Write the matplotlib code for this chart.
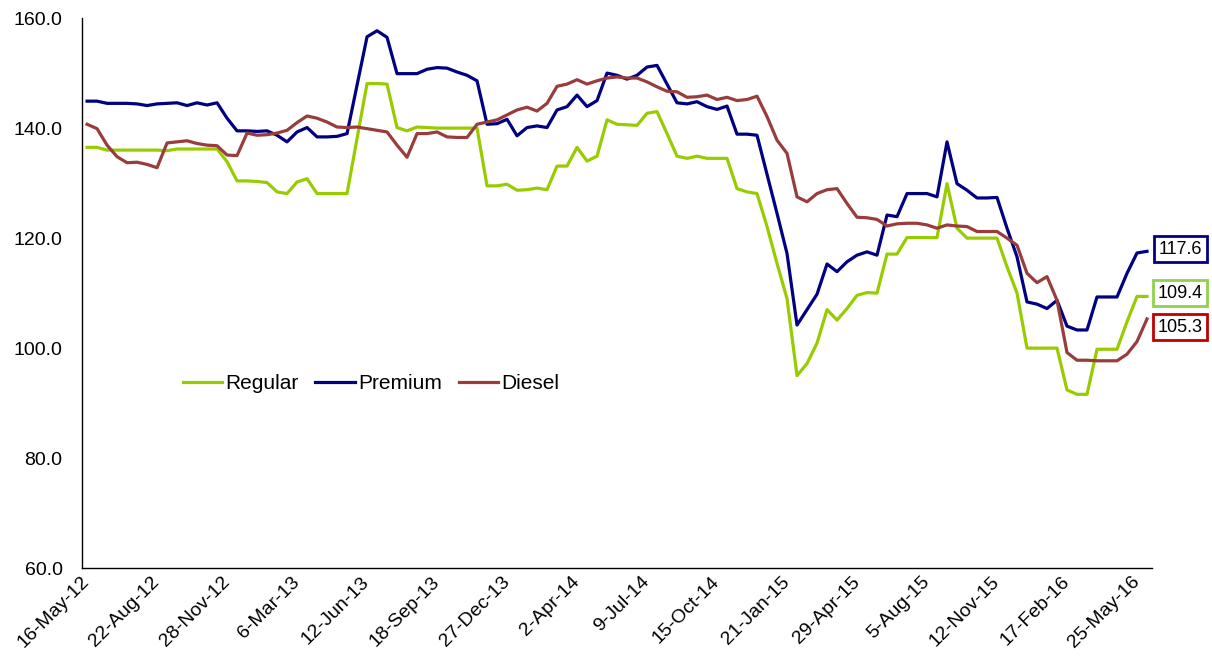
import numpy as np
import matplotlib
matplotlib.use("Agg")
import matplotlib.pyplot as plt
from matplotlib.ticker import FormatStrFormatter

plt.rcParams['font.family'] = ['Liberation Sans', 'DejaVu Sans']

# --- data (biweekly price index) ---
tick_labels = ['16-May-12', '22-Aug-12', '28-Nov-12', '6-Mar-13', '12-Jun-13', '18-Sep-13',
               '27-Dec-13', '2-Apr-14', '9-Jul-14', '15-Oct-14', '21-Jan-15', '29-Apr-15',
               '5-Aug-15', '12-Nov-15', '17-Feb-16', '25-May-16']

regular = [136.5, 136.5, 136.0, 136.0, 136.0, 136.0, 136.0, 136.0, 135.9, 136.2,
           136.2, 136.2, 136.2, 136.2, 133.9, 130.4, 130.4, 130.3, 130.1, 128.4,
           128.1, 130.2, 130.8, 128.1, 128.1, 128.1, 128.1, 138.1, 148.1, 148.1,
           148.0, 140.1, 139.5, 140.2, 140.1, 140.0, 140.0, 140.0, 140.0, 140.0,
           129.5, 129.5, 129.8, 128.7, 128.8, 129.1, 128.8, 133.1, 133.1, 136.5,
           134.0, 134.9, 141.5, 140.7, 140.6, 140.5, 142.7, 143.0, 139.0, 134.9,
           134.5, 134.9, 134.5, 134.5, 134.5, 129.0, 128.4, 128.1, 122.1, 115.4,
           109.0, 95.0, 97.2, 100.9, 107.0, 105.1, 107.2, 109.6, 110.1, 110.0,
           117.1, 117.1, 120.1, 120.1, 120.1, 120.1, 129.9, 121.8, 120.0, 120.0,
           120.0, 120.0, 114.8, 110.0, 100.0, 100.0, 100.0, 100.0, 92.4, 91.6,
           91.6, 99.8, 99.8, 99.8, 104.8, 109.4, 109.4]

premium = [144.9, 144.9, 144.5, 144.5, 144.5, 144.4, 144.1, 144.4, 144.5, 144.6,
           144.1, 144.6, 144.2, 144.6, 141.8, 139.5, 139.5, 139.4, 139.5, 138.7,
           137.5, 139.3, 140.1, 138.4, 138.4, 138.5, 139.0, 147.8, 156.6, 157.7,
           156.5, 149.9, 149.9, 149.9, 150.7, 151.0, 150.9, 150.2, 149.6, 148.6,
           140.7, 140.8, 141.6, 138.6, 140.1, 140.4, 140.1, 143.3, 143.9, 146.0,
           143.9, 145.0, 150.0, 149.6, 148.9, 149.6, 151.1, 151.4, 148.0, 144.6,
           144.4, 144.8, 143.9, 143.4, 144.0, 138.9, 138.9, 138.7, 131.6, 124.5,
           117.2, 104.2, 107.0, 109.8, 115.3, 113.9, 115.7, 116.9, 117.5, 116.9,
           124.2, 123.9, 128.1, 128.1, 128.1, 127.5, 137.5, 129.9, 128.7, 127.3,
           127.3, 127.4, 121.8, 116.6, 108.4, 108.0, 107.2, 108.7, 104.0, 103.3,
           103.3, 109.3, 109.3, 109.3, 113.6, 117.3, 117.6]

diesel = [140.7, 139.9, 136.9, 134.8, 133.7, 133.8, 133.4, 132.8, 137.3, 137.5,
          137.7, 137.2, 136.9, 136.8, 135.1, 135.0, 139.1, 138.7, 138.8, 139.1,
          139.6, 141.0, 142.2, 141.8, 141.1, 140.2, 140.1, 140.2, 139.9, 139.6,
          139.3, 136.9, 134.7, 139.0, 139.0, 139.3, 138.4, 138.3, 138.3, 140.7,
          141.1, 141.5, 142.4, 143.3, 143.8, 143.1, 144.5, 147.6, 148.0, 148.8,
          148.0, 148.6, 149.1, 149.3, 149.1, 149.1, 148.4, 147.5, 146.7, 146.6,
          145.6, 145.7, 146.0, 145.2, 145.6, 145.0, 145.2, 145.8, 142.1, 137.8,
          135.4, 127.5, 126.6, 128.1, 128.8, 129.0, 126.3, 123.8, 123.7, 123.4,
          122.2, 122.6, 122.7, 122.7, 122.4, 121.8, 122.4, 122.2, 122.1, 121.2,
          121.2, 121.2, 120.0, 118.7, 113.6, 111.9, 113.0, 108.7, 99.2, 97.8,
          97.8, 97.7, 97.7, 97.7, 98.9, 101.2, 105.3]

x = np.arange(len(regular))
tick_step = 7

fig = plt.figure(figsize=(12.12, 6.70), dpi=100)
ax = fig.add_axes([0.0677, 0.152, 0.8828, 0.821])

ax.plot(x, regular, color='#99CC00', lw=2.3, label='Regular')
ax.plot(x, premium, color='#000080', lw=2.3, label='Premium')
ax.plot(x, diesel, color='#993C3C', lw=2.3, label='Diesel')

ax.set_xlim(-0.5, len(x) - 0.5)
ax.set_ylim(60, 160)
ax.set_yticks(np.arange(60, 161, 20))
ax.yaxis.set_major_formatter(FormatStrFormatter('%.1f'))
ax.set_xticks(x[::tick_step][:len(tick_labels)])
ax.set_xticklabels(tick_labels, rotation=45, ha='right', va='center',
                   rotation_mode='anchor')
ax.tick_params(axis='both', length=0, labelsize=14)
ax.tick_params(axis='y', pad=14)
ax.tick_params(axis='x', pad=8)

for s in ['top', 'right']:
    ax.spines[s].set_visible(False)
for s in ['left', 'bottom']:
    ax.spines[s].set_color('black')
    ax.spines[s].set_linewidth(1.0)

ax.legend(loc='center', bbox_to_anchor=(0.27, 0.336), ncol=3, frameon=False,
          fontsize=15, handlelength=1.9, handletextpad=0.15, columnspacing=0.8)

# end-value boxes
boxes = [(premium[-1], '#000080', 1.6), (regular[-1], '#92D050', 2.4), (diesel[-1], '#C00000', -5.8)]
for val, col, dy in boxes:
    ax.annotate(f'{val:.1f}', xy=(x[-1], val), xytext=(24, dy), textcoords='offset points',
                ha='center', va='center', fontsize=13, annotation_clip=False,
                bbox=dict(boxstyle='square,pad=0.25', fc='white', ec=col, lw=2))

fig.savefig('out.png', dpi=100)
